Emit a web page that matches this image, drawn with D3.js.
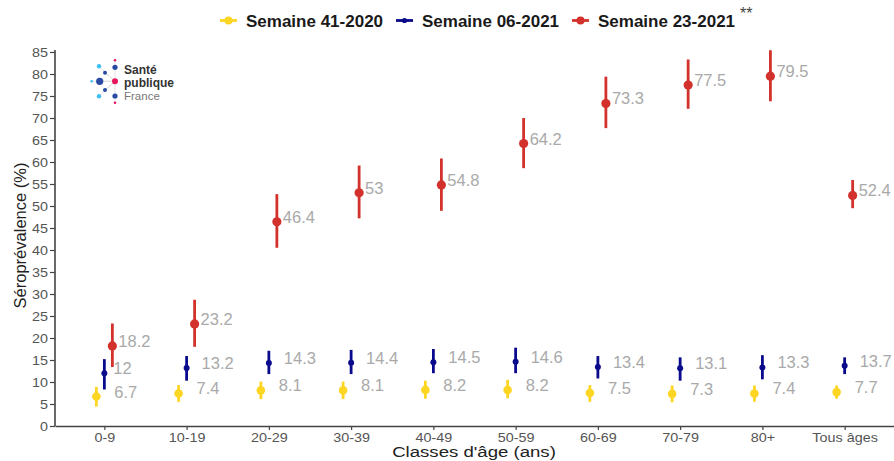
<!DOCTYPE html>
<html>
<head>
<meta charset="utf-8">
<script src="https://cdn.jsdelivr.net/npm/d3@7"></script>
<style>
  html, body { margin: 0; padding: 0; background: #fff; }
  #chart { width: 894px; height: 461px; }
  text { font-family: "Liberation Sans", Arial, sans-serif; }
</style>
</head>
<body>
<div id="chart"></div>
<script>
// Séroprévalence par classe d'âge - 3 vagues
const categories = ["0-9", "10-19", "20-29", "30-39", "40-49", "50-59", "60-69", "70-79", "80+", "Tous âges"];
const seriesNames = ["Semaine 41-2020", "Semaine 06-2021", "Semaine 23-2021"];

const s41Value = [6.7, 7.4, 8.1, 8.1, 8.2, 8.2, 7.5, 7.3, 7.4, 7.7];
const s41Low   = [4.4, 5.5, 6.1, 6.1, 6.2, 6.3, 5.5, 5.4, 5.5, 6.2];
const s41High  = [8.9, 9.3, 10.1, 10.1, 10.3, 10.5, 9.3, 9.2, 9.2, 9.2];

const s06Value = [12, 13.2, 14.3, 14.4, 14.5, 14.6, 13.4, 13.1, 13.3, 13.7];
const s06Low   = [8.3, 10.3, 11.8, 11.8, 12.0, 12.0, 10.8, 10.3, 10.6, 11.8];
const s06High  = [15.2, 15.9, 17.1, 17.3, 17.5, 17.8, 15.9, 15.6, 16.1, 15.6];

const s23Value = [18.2, 23.2, 46.4, 53, 54.8, 64.2, 73.3, 77.5, 79.5, 52.4];
const s23Low   = [13.4, 18.0, 40.5, 47.2, 48.9, 58.6, 67.7, 72.1, 73.8, 49.5];
const s23High  = [23.3, 28.7, 52.7, 59.2, 60.8, 70.0, 79.4, 83.3, 85.4, 55.9];

const yTicks = [0, 5, 10, 15, 20, 25, 30, 35, 40, 45, 50, 55, 60, 65, 70, 75, 80, 85];

(() => {
  const W = 894, H = 461;
  const margin = { top: 52, right: 0, bottom: 35, left: 55 };

  // styles par série (dodge, couleur, taille du point, décalage de l'étiquette)
  const styles = [
    { color: "#fdd523", dodge: -8, r: 4.3, labelDx: 10 },
    { color: "#0a0a8c", dodge: 0,  r: 3.0, labelDx: 15 },
    { color: "#d3312c", dodge: 8,  r: 4.6, labelDx: 14 }
  ];
  const values = [s41Value, s06Value, s23Value];
  const lows = [s41Low, s06Low, s23Low];
  const highs = [s41High, s06High, s23High];

  const rows = seriesNames.flatMap((name, si) =>
    categories.map((cat, ci) => ({
      series: si, cat,
      value: values[si][ci], low: lows[si][ci], high: highs[si][ci]
    }))
  );

  const svg = d3.select("#chart").append("svg")
    .attr("width", W).attr("height", H);

  const x = d3.scalePoint().domain(categories)
    .range([margin.left, W - margin.right]).padding(0.6);
  const y = d3.scaleLinear().domain([0, 85])
    .range([H - margin.bottom, margin.top]);

  // le visuel d'origine est un peu étiré horizontalement : on élargit les textes d'axe
  const yAxis = svg.append("g")
    .attr("transform", `translate(${margin.left},0)`)
    .call(d3.axisLeft(y).tickValues(yTicks).tickSize(5).tickPadding(1).tickSizeOuter(0));
  yAxis.select(".domain").attr("stroke", "#444").attr("stroke-width", 1.6)
    .attr("d", `M0,${y(0)}V${y(85) - 2}`);
  yAxis.selectAll(".tick line").attr("stroke", "#444").attr("stroke-width", 1.2);
  yAxis.selectAll(".tick text")
    .attr("fill", "#555").style("font-size", "12.5px")
    .attr("transform", "scale(1.15,1)")
    .style("font-family", '"Liberation Sans", Arial, sans-serif');

  const xAxis = svg.append("g")
    .attr("transform", `translate(0,${y(0)})`)
    .call(d3.axisBottom(x).tickSize(4).tickPadding(3).tickSizeOuter(0));
  xAxis.select(".domain").attr("stroke", "#444").attr("stroke-width", 1.6);
  xAxis.selectAll(".tick line").attr("stroke", "#444").attr("stroke-width", 1.2);
  xAxis.selectAll(".tick text")
    .attr("fill", "#555").style("font-size", "12px")
    .attr("transform", "scale(1.2,1)")
    .style("font-family", '"Liberation Sans", Arial, sans-serif');

  // titres des axes
  svg.append("text")
    .attr("transform", "translate(474,456.5) scale(1.2,1)")
    .attr("text-anchor", "middle")
    .attr("fill", "#222").style("font-size", "15.5px")
    .text("Classes d'âge (ans)");
  svg.append("text")
    .attr("transform", `translate(26,${(163 + 308) / 2}) rotate(-90)`)
    .attr("text-anchor", "middle")
    .attr("fill", "#222").style("font-size", "16.5px")
    .text("Séroprévalence (%)");

  // === Barres d'erreur + points ===
  const g = svg.append("g");
  g.selectAll("line.err").data(rows).enter().append("line")
    .attr("class", "err")
    .attr("x1", d => x(d.cat) + styles[d.series].dodge)
    .attr("x2", d => x(d.cat) + styles[d.series].dodge)
    .attr("y1", d => y(d.low))
    .attr("y2", d => y(d.high))
    .attr("stroke", d => styles[d.series].color)
    .attr("stroke-width", 2.8);

  g.selectAll("circle.pt").data(rows).enter().append("circle")
    .attr("class", "pt")
    .attr("cx", d => x(d.cat) + styles[d.series].dodge)
    .attr("cy", d => y(d.value))
    .attr("r", d => styles[d.series].r)
    .attr("fill", d => styles[d.series].color);

  // étiquettes de valeurs (grises)
  g.selectAll("text.lbl").data(rows).enter().append("text")
    .attr("class", "lbl")
    .attr("x", d => x(d.cat) + ((d.series === 1 && d.cat === "0-9") ? 9 : styles[d.series].labelDx))
    .attr("y", d => y(d.value) + 1)
    .attr("fill", "#a9a9a9")
    .style("font-size", "16.5px")
    .text(d => d3.format("~g")(d.value));

  // === Légende ===
  const legendX = [220, 396, 572];
  const legend = svg.append("g");
  seriesNames.forEach((name, i) => {
    const lx = legendX[i];
    legend.append("line")
      .attr("x1", lx).attr("x2", lx + 17).attr("y1", 20.5).attr("y2", 20.5)
      .attr("stroke", styles[i].color).attr("stroke-width", 2.8);
    legend.append("circle")
      .attr("cx", lx + 8.5).attr("cy", 20.5)
      .attr("r", i === 1 ? 2.6 : 4)
      .attr("fill", styles[i].color);
    legend.append("text")
      .attr("x", lx + 26).attr("y", 26.5)
      .attr("fill", "#1a1a1a")
      .style("font-size", "17px").style("font-weight", "bold")
      .text(name);
  });
  legend.append("text")
    .attr("x", 740).attr("y", 19)
    .attr("fill", "#444").style("font-size", "16px")
    .text("**");

  // === Logo Santé publique France ===
  const logo = svg.append("g");
  const cxL = 115, cyL = 81.3;
  const spokes = [[99.7, 81.3], [91.7, 81.3], [99, 66.3], [99, 96.3], [105, 72.7], [105, 90]];
  spokes.forEach(([sx, sy]) => {
    logo.append("line").attr("x1", cxL).attr("y1", cyL).attr("x2", sx).attr("y2", sy)
      .attr("stroke", "#dcdcdc").attr("stroke-width", 0.8);
  });
  logo.append("line").attr("x1", cxL).attr("x2", cxL).attr("y1", 60).attr("y2", 103)
    .attr("stroke", "#dcdcdc").attr("stroke-width", 0.8);
  const dots = [
    [115, 60.3, 1.3, "#e8175d"], [115, 67.3, 2.6, "#2a4aa3"], [115, 81.3, 3, "#e8175d"],
    [115, 96, 2.6, "#2a4aa3"], [115, 102.7, 1.3, "#e8175d"],
    [99.7, 81.3, 3.6, "#2a4aa3"], [91.7, 81.3, 1.3, "#3ec0f0"],
    [99, 66.3, 2.2, "#3ec0f0"], [99, 96.3, 2.2, "#3ec0f0"],
    [105, 72.7, 2, "#2a4aa3"], [105, 90, 2, "#2a4aa3"]
  ];
  dots.forEach(([dx, dy, dr, dc]) => {
    logo.append("circle").attr("cx", dx).attr("cy", dy).attr("r", dr).attr("fill", dc);
  });
  logo.append("text").attr("x", 124).attr("y", 74)
    .attr("fill", "#333").style("font-size", "12px").style("font-weight", "bold").text("Santé");
  logo.append("text").attr("x", 124).attr("y", 86.5)
    .attr("fill", "#333").style("font-size", "12px").style("font-weight", "bold").text("publique");
  logo.append("text").attr("x", 124).attr("y", 99.5)
    .attr("fill", "#777").style("font-size", "11.5px").text("France");
})();
</script>
</body>
</html>
